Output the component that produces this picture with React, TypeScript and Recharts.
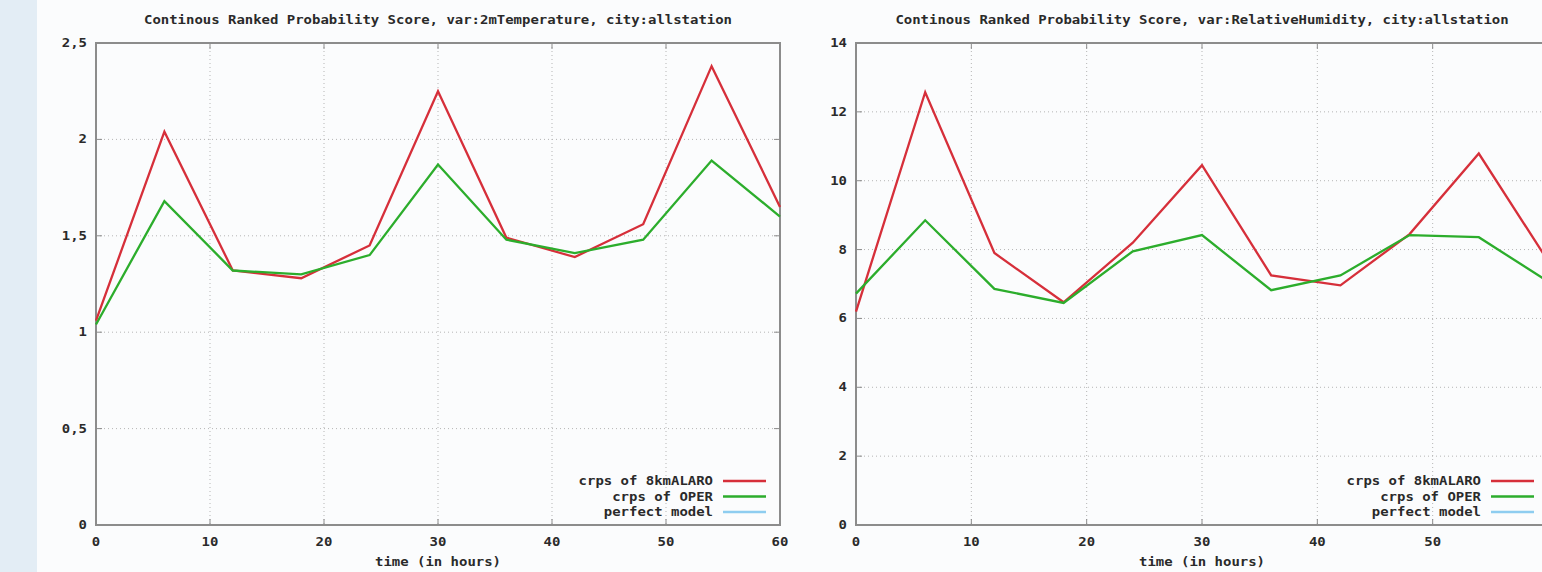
import React from "react";
import { LineChart, Line, XAxis, YAxis, CartesianGrid, ReferenceArea } from "recharts";

const HOURS = [0, 6, 12, 18, 24, 30, 36, 42, 48, 54, 60];
const TEMP_ALARO = [1.06, 2.04, 1.32, 1.28, 1.45, 2.25, 1.49, 1.39, 1.56, 2.38, 1.65];
const TEMP_OPER = [1.04, 1.68, 1.32, 1.3, 1.4, 1.87, 1.48, 1.41, 1.48, 1.89, 1.6];
const HUM_ALARO = [6.2, 12.57, 7.9, 6.47, 8.2, 10.45, 7.25, 6.96, 8.45, 10.79, 7.67];
const HUM_OPER = [6.72, 8.85, 6.86, 6.45, 7.95, 8.42, 6.82, 7.25, 8.42, 8.36, 7.07];

const X_TICKS = [0, 10, 20, 30, 40, 50, 60];
const TEMP_TICKS = [0, 0.5, 1, 1.5, 2, 2.5];
const HUM_TICKS = [0, 2, 4, 6, 8, 10, 12, 14];

const SERIES_NAMES = ["crps of 8kmALARO", "crps of OPER", "perfect model"];
const SERIES_COLORS = ["#d62f3a", "#2cad2c", "#8ecdf0"];

const TITLE_TEMP = "Continous Ranked Probability Score, var:2mTemperature, city:allstation";
const TITLE_HUM = "Continous Ranked Probability Score, var:RelativeHumidity, city:allstation";
const X_LABEL = "time (in hours)";

const FONT = "'DejaVu Sans Mono', 'Liberation Mono', monospace";
const CHAR_W = 8.4;
const INK = "#2a2a2a";
const BORDER = "#8c8c8c";
const TOP = 43;
const BOTTOM = 525;
const PAGE_W = 1542;

function Txt({ x, y, anchor = "middle", children }: { x: number; y: number; anchor?: string; children: any }) {
  const s = String(children);
  return (
    <text
      x={x}
      y={y}
      textAnchor={anchor as any}
      fontFamily={FONT}
      fontWeight="bold"
      fontSize={12}
      fill={INK}
      textLength={s.length * CHAR_W}
      lengthAdjust="spacingAndGlyphs"
    >
      {s}
    </text>
  );
}

const fmt = (v: number) => String(v).replace(".", ",");

function Panel({
  left,
  width,
  axisWidth,
  title,
  alaro,
  oper,
  yTicks,
}: {
  left: number;
  width: number;
  axisWidth: number;
  title: string;
  alaro: number[];
  oper: number[];
  yTicks: number[];
}) {
  const data = HOURS.map((h, i) => ({ h, alaro: alaro[i], oper: oper[i] }));
  const plotLeft = axisWidth;
  const plotRight = width - 10;
  const plotW = plotRight - plotLeft;
  const plotH = BOTTOM - TOP;
  const yMax = yTicks[yTicks.length - 1];
  const mid = (plotLeft + plotRight) / 2;

  // labels that would fall past the page edge are left out (the page crops them)
  const xTick = ({ x, y, payload }: any) => (
    <g>
      <line x1={x} x2={x} y1={y} y2={y - 6} stroke={BORDER} />
      <line x1={x} x2={x} y1={y - plotH} y2={y - plotH + 6} stroke={BORDER} />
      {left + x + 8 < PAGE_W && <Txt x={x} y={y + 21}>{payload.value}</Txt>}
    </g>
  );
  const yTick = ({ x, y, payload }: any) => (
    <g>
      <line x1={x} x2={x + 6} y1={y} y2={y} stroke={BORDER} />
      <line x1={x + plotW} x2={x + plotW - 6} y1={y} y2={y} stroke={BORDER} />
      <Txt x={x - 9} y={y + 4} anchor="end">{fmt(payload.value)}</Txt>
    </g>
  );

  return (
    <div style={{ position: "absolute", left, top: 0, width, height: 572 }}>
      <LineChart width={width} height={572} data={data} margin={{ top: TOP, right: 10, bottom: 17, left: 0 }}>
        <CartesianGrid stroke="#b5b5b5" strokeDasharray="1 3" />
        <XAxis
          dataKey="h"
          type="number"
          domain={[0, 60]}
          ticks={X_TICKS}
          height={30}
          axisLine={false}
          tickLine={false}
          tickSize={0}
          tickMargin={0}
          tick={xTick}
        />
        <YAxis
          type="number"
          domain={[0, yMax]}
          ticks={yTicks}
          width={axisWidth}
          axisLine={false}
          tickLine={false}
          tickSize={0}
          tickMargin={0}
          tick={yTick}
        />
        <ReferenceArea x1={0} x2={60} y1={0} y2={yMax} fill="none" stroke={BORDER} strokeWidth={2} ifOverflow="visible" />
        <Line dataKey="alaro" name={SERIES_NAMES[0]} stroke={SERIES_COLORS[0]} strokeWidth={2.3} dot={false} isAnimationActive={false} />
        <Line dataKey="oper" name={SERIES_NAMES[1]} stroke={SERIES_COLORS[1]} strokeWidth={2.3} dot={false} isAnimationActive={false} />
      </LineChart>
      <svg
        width={width}
        height={572}
        style={{ position: "absolute", left: 0, top: 0, pointerEvents: "none", overflow: "visible" }}
      >
        <Txt x={mid} y={24}>{title}</Txt>
        <Txt x={mid} y={566}>{X_LABEL}</Txt>
        {SERIES_NAMES.map((name, i) => {
          const yy = 481 + i * 15.5;
          return (
            <g key={name}>
              <Txt x={plotRight - 67} y={yy + 4} anchor="end">{name}</Txt>
              <line x1={plotRight - 57} x2={plotRight - 14} y1={yy} y2={yy} stroke={SERIES_COLORS[i]} strokeWidth={2.3} />
            </g>
          );
        })}
      </svg>
    </div>
  );
}

export default function App() {
  return (
    <div
      style={{
        position: "fixed",
        left: 0,
        top: 0,
        width: PAGE_W,
        height: 572,
        overflow: "hidden",
        background: "#fbfcfd",
      }}
    >
      <div style={{ position: "absolute", left: 0, top: 0, width: 37, height: 572, background: "#e3edf5" }} />
      <Panel left={0} width={790} axisWidth={96} title={TITLE_TEMP} alaro={TEMP_ALARO} oper={TEMP_OPER} yTicks={TEMP_TICKS} />
      <Panel left={790} width={768} axisWidth={66} title={TITLE_HUM} alaro={HUM_ALARO} oper={HUM_OPER} yTicks={HUM_TICKS} />
    </div>
  );
}
